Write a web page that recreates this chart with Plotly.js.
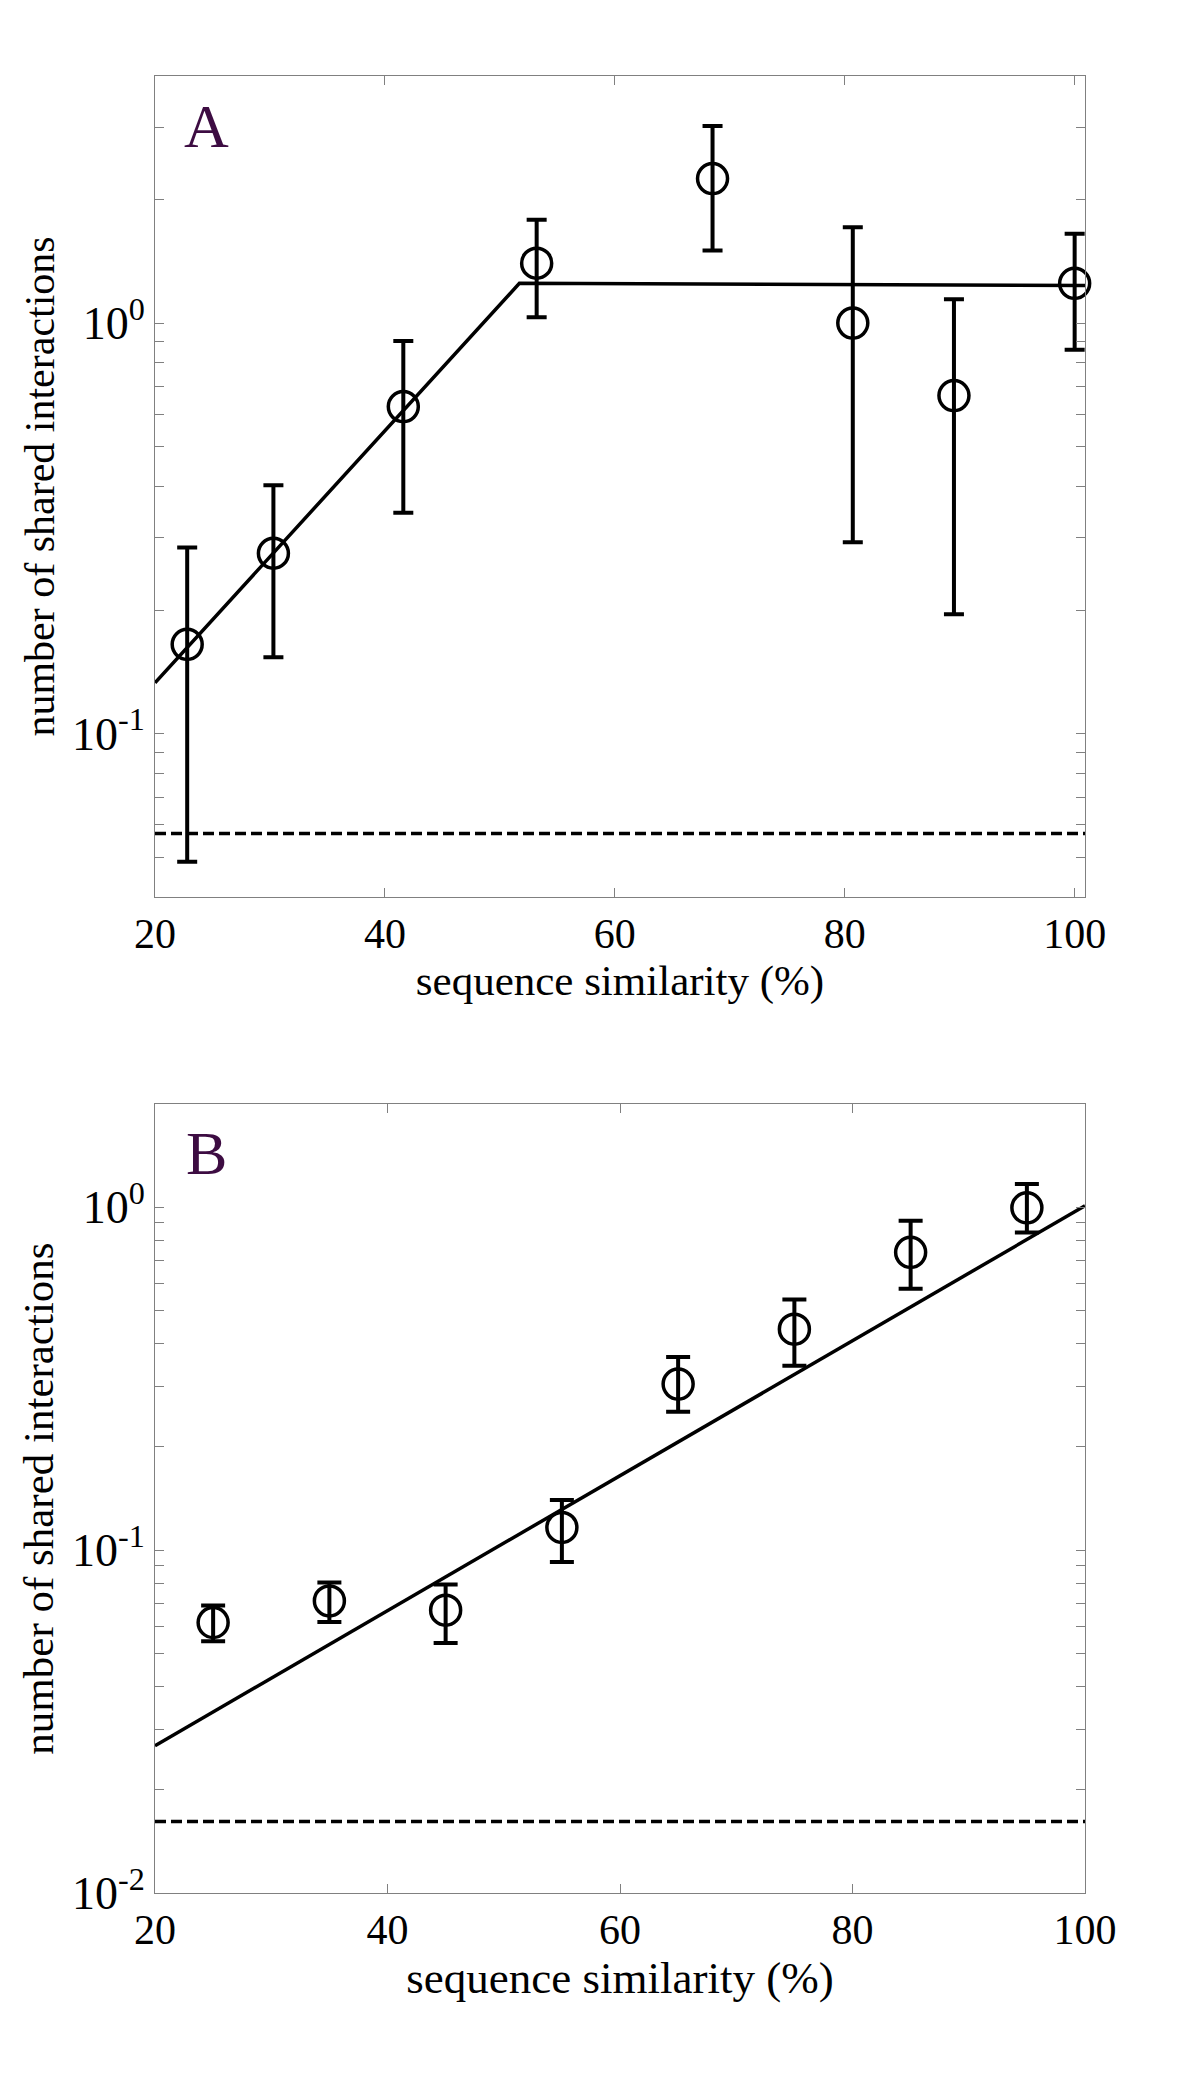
<!DOCTYPE html>
<html>
<head>
<meta charset="utf-8">
<script src="https://cdn.plot.ly/plotly-3.0.1.min.js"></script>
<style>
html,body{margin:0;padding:0;background:#ffffff;}
#chart{width:1200px;height:2100px;}
</style>
</head>
<body>
<div id="chart"></div>
<script>
// ---------- Panel A data ----------
const simA   = [22.8, 30.3, 41.6, 53.2, 68.5, 80.7, 89.5, 100];
const meanA  = [0.165, 0.275, 0.626, 1.40, 2.25, 1.00, 0.666, 1.25];
const upperA = [0.284, 0.403, 0.905, 1.785, 3.02, 1.712, 1.144, 1.650];
const lowerA = [0.0487, 0.1534, 0.345, 1.034, 1.502, 0.2927, 0.1953, 0.861];
const fitAx  = [20, 51.7, 100.9];
const fitAy  = [0.133, 1.25, 1.235];
const baseAx = [20, 100.9];
const baseAy = [0.0571, 0.0571];

// ---------- Panel B data ----------
const simB   = [25, 35, 45, 55, 65, 75, 85, 95];
const meanB  = [0.0615, 0.0711, 0.0668, 0.1165, 0.305, 0.441, 0.739, 0.996];
const upperB = [0.0689, 0.0804, 0.0794, 0.140, 0.366, 0.538, 0.914, 1.17];
const lowerB = [0.0542, 0.0617, 0.0536, 0.0924, 0.2535, 0.345, 0.579, 0.8435];
const fitBx  = [20, 100];
const fitBy  = [0.0269, 1.01];
const baseBx = [20, 100];
const baseBy = [0.01616, 0.01616];

// ---------- ticks ----------
const xTickVals = [20, 40, 60, 80, 100];
const xTickText = ['20', '40', '60', '80', '100'];
const yTickValsA = [0.1, 1];
const yTickTextA = ['10<sup>-1</sup>', '10<sup>0</sup>'];
const yMinorA = [0.04,0.05,0.06,0.07,0.08,0.09,0.2,0.3,0.4,0.5,0.6,0.7,0.8,0.9,2,3,4];
const yTickValsB = [0.01, 0.1, 1];
const yTickTextB = ['10<sup>-2</sup>', '10<sup>-1</sup>', '10<sup>0</sup>'];
const yMinorB = [0.02,0.03,0.04,0.05,0.06,0.07,0.08,0.09,0.2,0.3,0.4,0.5,0.6,0.7,0.8,0.9,2];

const panelLabels = ['A', 'B'];
const xTitle = 'sequence similarity (%)';
const yTitle = 'number of shared interactions';

const diff = (a, b) => a.map((v, i) => v - b[i]);

const lineStyle = {color:'#000000', width:3.5};
const dashStyle = {color:'#000000', width:3.5, dash:'11px,5px'};
const markerStyle = {symbol:'circle-open', size:30, color:'#000000', line:{width:3.5, color:'#000000'}};

const traces = [
  {x: baseAx, y: baseAy, xaxis:'x', yaxis:'y', mode:'lines', line: dashStyle, hoverinfo:'skip'},
  {x: fitAx, y: fitAy, xaxis:'x', yaxis:'y', mode:'lines', line: lineStyle, hoverinfo:'skip'},
  {x: simA, y: meanA, xaxis:'x', yaxis:'y', mode:'markers', marker: markerStyle, cliponaxis:false,
   error_y:{type:'data', symmetric:false, array: diff(upperA, meanA), arrayminus: diff(meanA, lowerA), color:'#000000', thickness:4, width:10}},
  {x: baseBx, y: baseBy, xaxis:'x2', yaxis:'y2', mode:'lines', line: dashStyle, hoverinfo:'skip'},
  {x: fitBx, y: fitBy, xaxis:'x2', yaxis:'y2', mode:'lines', line: lineStyle, hoverinfo:'skip'},
  {x: simB, y: meanB, xaxis:'x2', yaxis:'y2', mode:'markers', marker: markerStyle, cliponaxis:false,
   error_y:{type:'data', symmetric:false, array: diff(upperB, meanB), arrayminus: diff(meanB, lowerB), color:'#000000', thickness:4, width:12}}
];

const serif = '"Liberation Serif", "Times New Roman", serif';

const axisCommon = {
  showline:true, linecolor:'#808080', linewidth:1, mirror:'ticks',
  ticks:'inside', ticklen:9, tickwidth:1, tickcolor:'#808080',
  showgrid:false, zeroline:false
};

const layout = {
  width:1200, height:2100,
  margin:{l:155, r:115, t:76, b:207},
  paper_bgcolor:'#ffffff', plot_bgcolor:'#ffffff',
  showlegend:false,
  font:{family:serif, color:'#000000'},
  xaxis: Object.assign({}, axisCommon, {
    domain:[0,1], anchor:'y', range:[20, 100.9],
    tickmode:'array', tickvals:xTickVals, ticktext:xTickText,
    tickfont:{size:42, family:serif, color:'#000000'},
    title:{text:xTitle, font:{size:43, family:serif}, standoff:0}
  }),
  yaxis: Object.assign({}, axisCommon, {
    domain:[0.5482,1], anchor:'x', type:'log',
    range:[Math.log10(0.04), Math.log10(4)],
    tickmode:'array', tickvals:yTickValsA, ticktext:yTickTextA,
    tickfont:{size:46, family:serif, color:'#000000'},
    minor:{tickmode:'array', tickvals:yMinorA, ticks:'inside', ticklen:9, tickcolor:'#808080', tickwidth:1, showgrid:false},
    title:{text:yTitle, font:{size:42, family:serif}, standoff:4}
  }),
  xaxis2: Object.assign({}, axisCommon, {
    domain:[0,1], anchor:'y2', range:[20, 100],
    tickmode:'array', tickvals:xTickVals, ticktext:xTickText,
    tickfont:{size:42, family:serif, color:'#000000'},
    title:{text:xTitle, font:{size:45, family:serif}, standoff:1}
  }),
  yaxis2: Object.assign({}, axisCommon, {
    domain:[0,0.4342], anchor:'x2', type:'log',
    range:[Math.log10(0.01), Math.log10(2)],
    tickmode:'array', tickvals:yTickValsB, ticktext:yTickTextB,
    tickfont:{size:46, family:serif, color:'#000000'},
    minor:{tickmode:'array', tickvals:yMinorB, ticks:'inside', ticklen:9, tickcolor:'#808080', tickwidth:1, showgrid:false},
    title:{text:yTitle, font:{size:43, family:serif}, standoff:4}
  }),
  annotations:[
    {text:panelLabels[0], xref:'x domain', yref:'y domain', x:0.055, y:0.939, xanchor:'center', yanchor:'middle',
     showarrow:false, font:{size:62, color:'#3d0c42', family:serif}},
    {text:panelLabels[1], xref:'x2 domain', yref:'y2 domain', x:0.055, y:0.9385, xanchor:'center', yanchor:'middle',
     showarrow:false, font:{size:62, color:'#3d0c42', family:serif}}
  ]
};

Plotly.newPlot('chart', traces, layout, {displayModeBar:false, staticPlot:true});
</script>
</body>
</html>
